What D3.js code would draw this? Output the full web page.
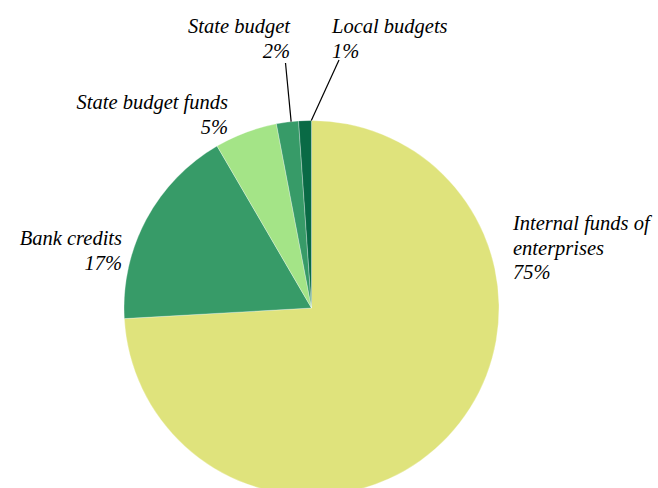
<!DOCTYPE html>
<html><head><meta charset="utf-8"><script src="https://cdn.jsdelivr.net/npm/d3@7"></script>
<style>
@font-face { font-family: "ChartSerif"; font-style: italic; font-weight: 400;
  src: local("Liberation Serif Italic"), local("LiberationSerif-Italic"), local("Tinos Italic"), local("Times New Roman Italic"); }
@font-face { font-family: "ChartSerif"; font-style: normal; font-weight: 400;
  src: local("Liberation Serif"), local("LiberationSerif"), local("Tinos"); }
</style>
</head>
<body style="margin:0">
<svg id="c" width="658" height="488"></svg>
<script>
const categories = ["Internal funds of enterprises", "Bank credits", "State budget funds", "State budget", "Local budgets"];
const values = [74.1, 17.5, 5.4, 1.9, 1.1];
const percentLabels = ["75%", "17%", "5%", "2%", "1%"];
const colors = ["#dfe37c", "#379b68", "#a4e487", "#379b68", "#096a45"];

const svg = d3.select("#c");
const cx = 311.5, cy = 308, r = 187.5;
const g = svg.append("g").attr("transform", `translate(${cx},${cy})`);

const pie = d3.pie().sort(null).value(d => d);
const arcs = pie(values);
const arc = d3.arc().innerRadius(0).outerRadius(r);

g.selectAll("path").data(arcs).enter().append("path")
  .attr("d", arc)
  .attr("fill", (d, i) => colors[i])
  .attr("stroke", "#ffffff")
  .attr("stroke-width", 0.6)
  .attr("stroke-opacity", 0.5);

const labelLayout = [
  { lines: ["Internal funds of", "enterprises"], x: 513, y: 230, anchor: "start" },
  { lines: ["Bank credits"], x: 122, y: 245, anchor: "end" },
  { lines: ["State budget funds"], x: 228, y: 109, anchor: "end" },
  { lines: ["State budget"], x: 290, y: 33, anchor: "end" },
  { lines: ["Local budgets"], x: 332, y: 33, anchor: "start" }
];
const lineH = 24.5;

labelLayout.forEach((L, i) => {
  const all = L.lines.concat([percentLabels[i]]);
  all.forEach((s, k) => {
    svg.append("text")
      .attr("x", L.x).attr("y", L.y + k * lineH)
      .attr("text-anchor", L.anchor)
      .style("font-family", "'Liberation Serif', ChartSerif, Tinos, 'Times New Roman'")
      .style("font-style", "italic")
      .style("font-size", "20.5px")
      .text(s);
  });
});

const leaders = [
  { i: 3, x1: 285.5, y1: 63 },
  { i: 4, x1: 339, y1: 60 }
];
leaders.forEach(Ld => {
  const a = arcs[Ld.i];
  const ang = Ld.i === 4 ? a.endAngle - 0.001 : (a.startAngle + a.endAngle) / 2 + 0.02;
  const x2 = cx + r * Math.sin(ang);
  const y2 = cy - r * Math.cos(ang);
  svg.append("line")
    .attr("x1", Ld.x1).attr("y1", Ld.y1)
    .attr("x2", x2).attr("y2", y2)
    .attr("stroke", "#000").attr("stroke-width", 1.2);
});
</script></body></html>
